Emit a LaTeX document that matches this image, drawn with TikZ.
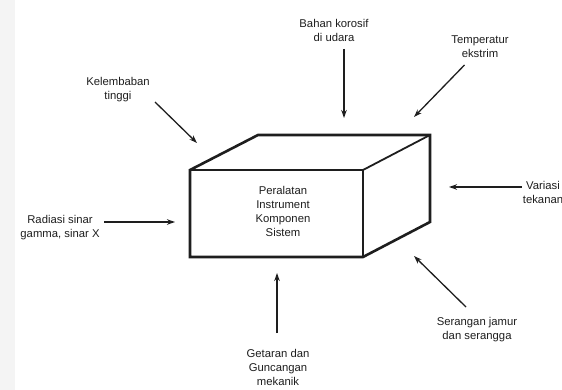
\documentclass[tikz,border=0pt]{standalone}
\usepackage{fontspec}
\setmainfont{Liberation Sans}
\usetikzlibrary{arrows.meta}
\definecolor{ink}{HTML}{1E1E1E}
\tikzset{
  lbl/.style={align=center,inner sep=0pt,text=ink,font=\fontsize{11.3}{14}\selectfont},
  arr/.style={draw=ink,line width=1.3pt,-{Stealth[length=8pt,width=5.5pt]}},
  outer/.style={draw=ink,line width=2.6pt,line join=miter},
  inner/.style={draw=ink,line width=1.8pt}
}
\begin{document}
\begin{tikzpicture}[x=1pt,y=-1pt]
\useasboundingbox (0,0) rectangle (562,390);
\clip (0,0) rectangle (562,390);
\fill[white] (0,0) rectangle (562,390);
\fill[gray!9] (0,0) rectangle (15,390);
% box corners
\coordinate (ftl) at (190,170);
\coordinate (ftr) at (363,170);
\coordinate (fbr) at (363,257);
\coordinate (fbl) at (190,257);
\coordinate (btl) at (258,135);
\coordinate (btr) at (430,135);
\coordinate (bbr) at (430,222);
\draw[inner] (ftl) -- (ftr) -- (fbr);
\draw[inner] (ftr) -- (btr);
\draw[outer] (fbl) -- (ftl) -- (btl) -- (btr) -- (bbr) -- (fbr) -- cycle;
\node[lbl] (core) at (283,211.5) {Peralatan\\Instrument\\Komponen\\Sistem};
% labels
\node[lbl] (bahan) at (334,30.5) {Bahan korosif\\di udara};
\node[lbl] (temp) at (480,46.5) {Temperatur\\ekstrim};
\node[lbl] (kel) at (118,90) {Kelembaban\\tinggi};
\node[lbl] (rad) at (60,228) {Radiasi sinar\\gamma, sinar X};
\node[lbl] (var) at (543,192) {Variasi\\tekanan};
\node[lbl] (ser) at (477,330) {Serangan jamur\\dan serangga};
\node[lbl] (get) at (278,367.5) {Getaran dan\\Guncangan\\mekanik};
% arrow ends
\coordinate (a1s) at (344,49);   \coordinate (a1e) at (344,118);
\coordinate (a2s) at (464.5,65); \coordinate (a2e) at (414,117);
\coordinate (a3s) at (155,102);  \coordinate (a3e) at (197,143);
\coordinate (a4s) at (104,222);  \coordinate (a4e) at (175,222);
\coordinate (a5s) at (521.5,187);\coordinate (a5e) at (449,187);
\coordinate (a6s) at (466,307);  \coordinate (a6e) at (414,256);
\coordinate (a7s) at (277,333);  \coordinate (a7e) at (277,273);
\draw[arr] (a1s) -- (a1e);
\draw[arr] (a2s) -- (a2e);
\draw[arr] (a3s) -- (a3e);
\draw[arr] (a4s) -- (a4e);
\draw[arr] (a5s) -- (a5e);
\draw[arr] (a6s) -- (a6e);
\draw[arr] (a7s) -- (a7e);
\end{tikzpicture}
\end{document}
